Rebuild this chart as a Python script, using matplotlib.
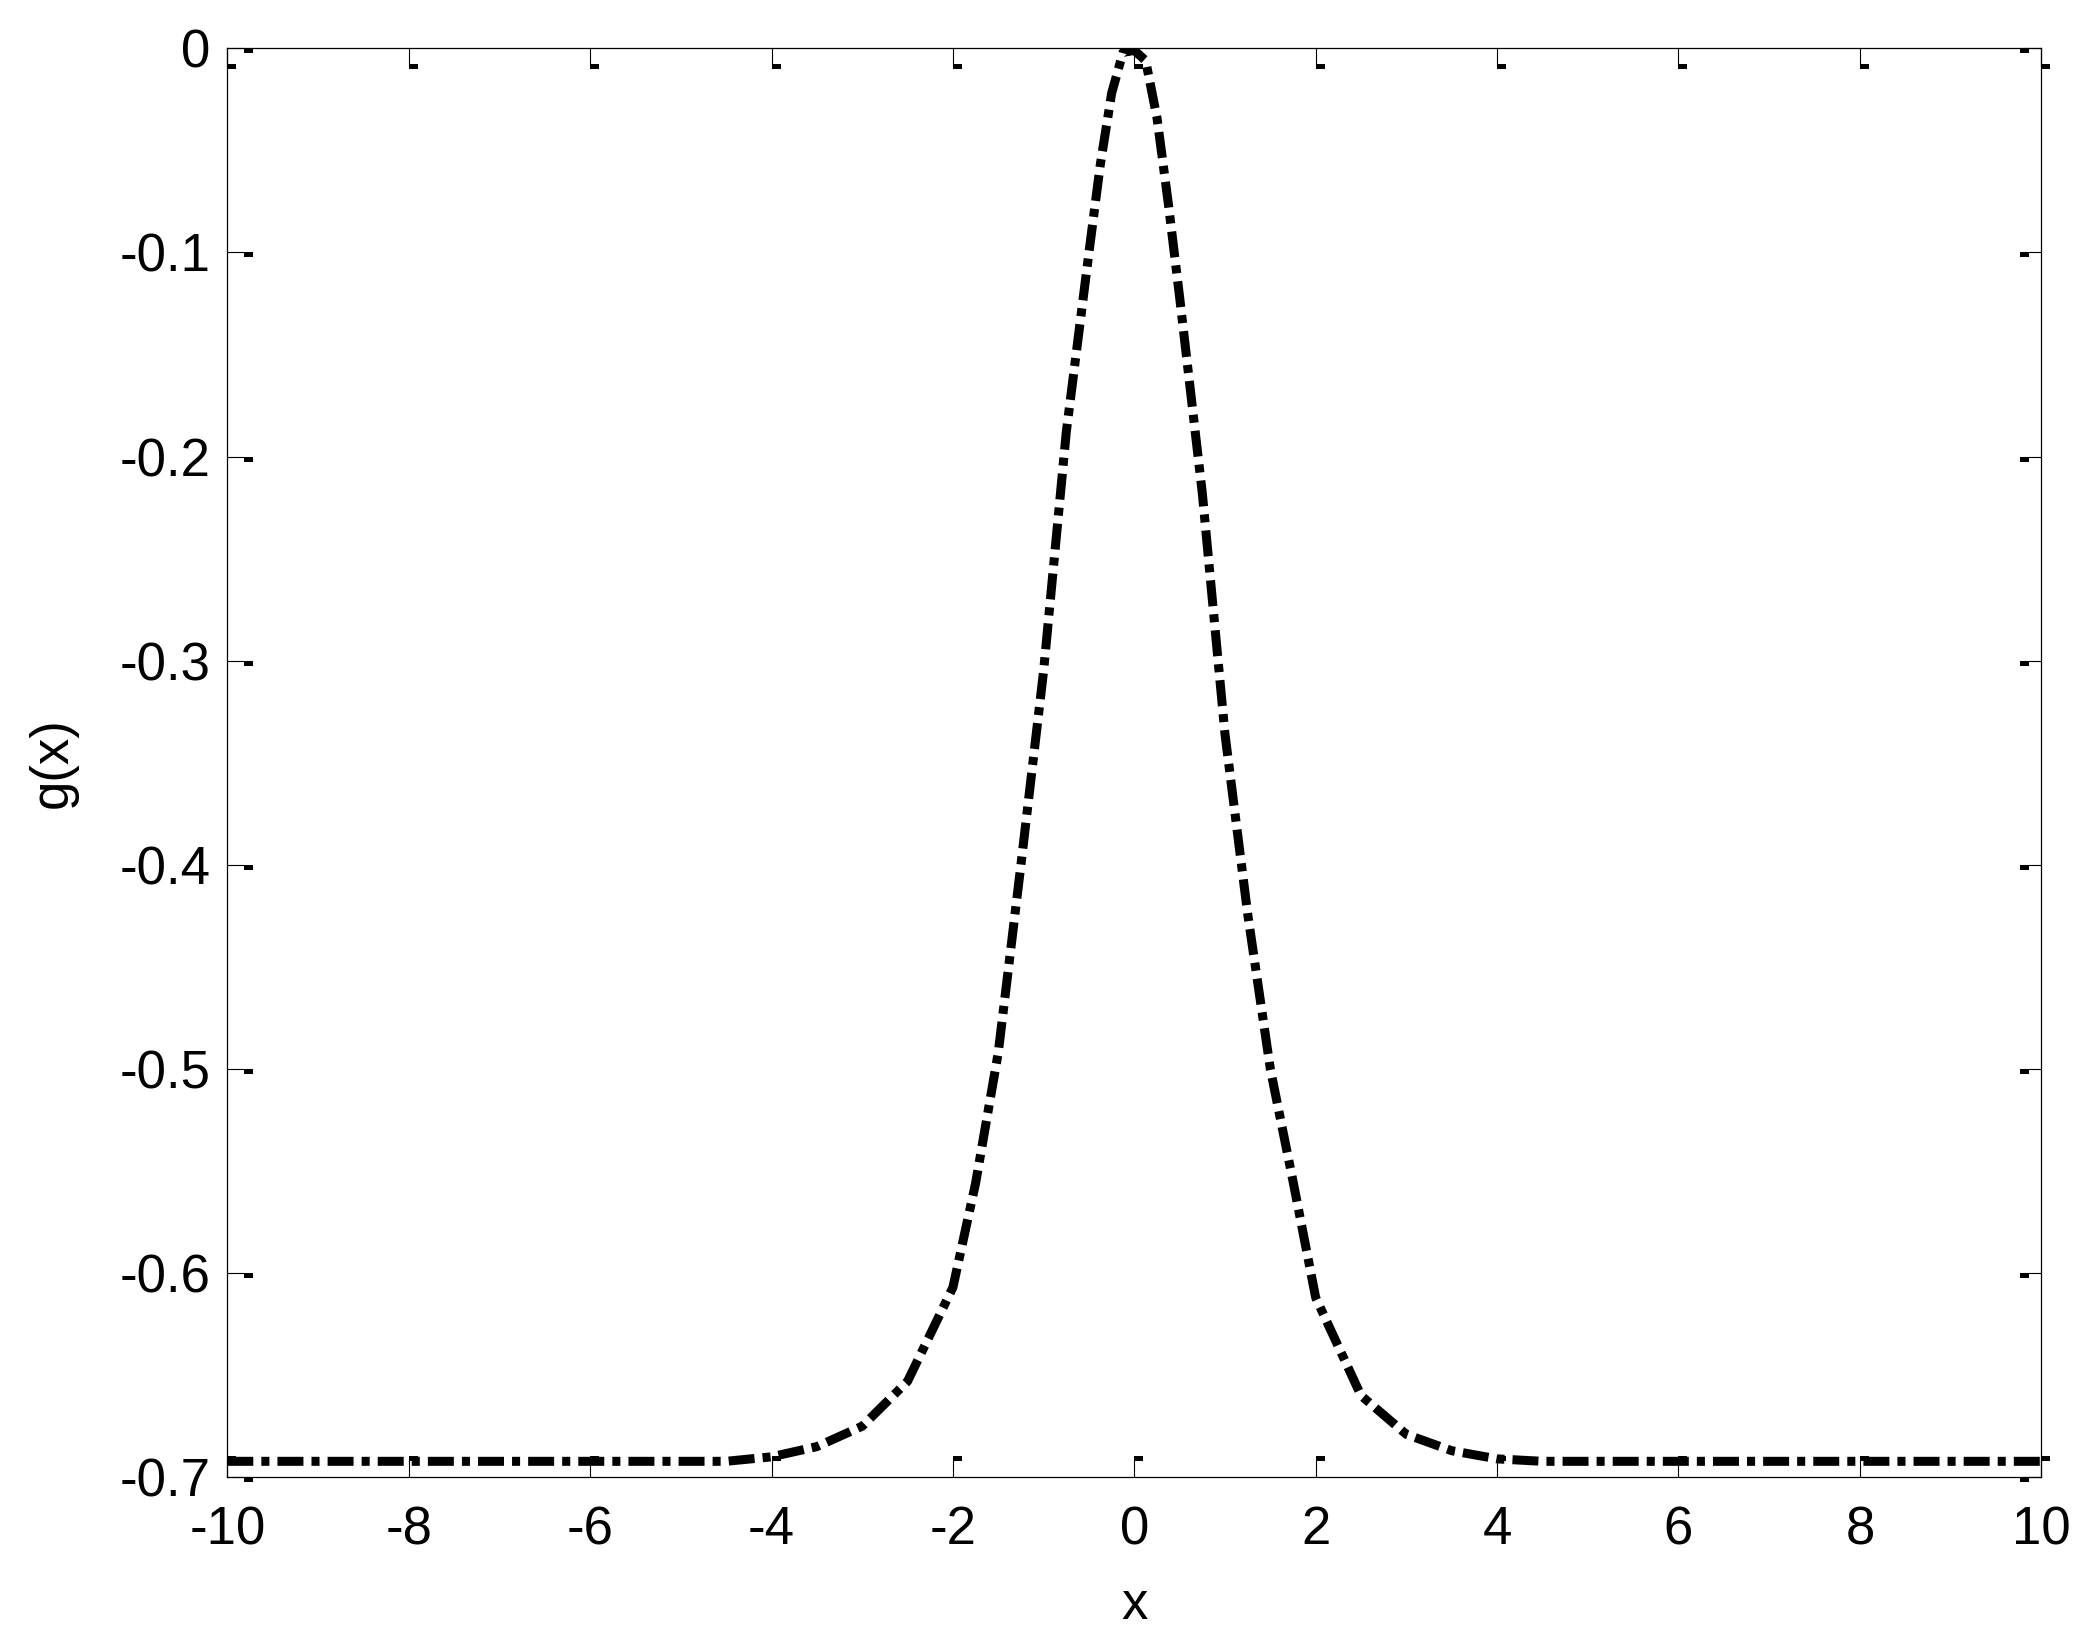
import numpy as np
import matplotlib
matplotlib.use("Agg")
import matplotlib.pyplot as plt
from matplotlib.patches import Rectangle
from matplotlib.transforms import ScaledTranslation, blended_transform_factory

# values
x_vals = [-10, -6, -4.5, -4.0, -3.5, -3.0, -2.5, -2.0, -1.75, -1.5, -1.25, -1.0,
          -0.75, -0.5, -0.375, -0.25, -0.125, 0, 0.125, 0.25, 0.375, 0.5, 0.75,
          1.0, 1.25, 1.5, 1.75, 2.0, 2.5, 3.0, 3.5, 4.0, 4.5, 6, 10]
g_vals = [-0.6922, -0.6922, -0.6922, -0.690, -0.685, -0.675, -0.653, -0.607, -0.556,
          -0.492, -0.400, -0.305, -0.188, -0.100, -0.057, -0.022, -0.002, -0.001,
          -0.006, -0.034, -0.076, -0.122, -0.218, -0.336, -0.424, -0.50, -0.555,
          -0.612, -0.660, -0.679, -0.687, -0.691, -0.6922, -0.6922, -0.6922]

x_ticks = [-10, -8, -6, -4, -2, 0, 2, 4, 6, 8, 10]
y_ticks = [-0.7, -0.6, -0.5, -0.4, -0.3, -0.2, -0.1, 0]
y_ticklabels = ["-0.7", "-0.6", "-0.5", "-0.4", "-0.3", "-0.2", "-0.1", "0"]

plt.rcParams["font.family"] = ["Liberation Sans", "DejaVu Sans"]
plt.rcParams["lines.scale_dashes"] = False

fig = plt.figure(figsize=(20.99, 16.5), dpi=100)
ax = fig.add_axes([0.1083, 0.1047, 0.8642, 0.866])

ax.plot(x_vals, g_vals, color="black", linewidth=6.5, zorder=3,
        dashes=(18.7, 5.8, 5.8, 5.8), dash_capstyle="butt")

ax.set_xlim(-10, 10)
ax.set_ylim(-0.7, 0)
ax.set_xticks(x_ticks)
ax.set_xticklabels([str(t) for t in x_ticks])
ax.set_yticks(y_ticks)
ax.set_yticklabels(y_ticklabels)

ax.tick_params(direction="in", length=13, width=0.8, labelsize=38,
               top=True, right=True)
ax.tick_params(axis="x", pad=20)
ax.tick_params(axis="y", pad=12)
for s in ax.spines.values():
    s.set_linewidth(0.9)

# little square blobs at the tick ends (MATLAB export look)
def blob(base, px, py, dx, dy):
    tr = fig.dpi_scale_trans + ScaledTranslation(px, py, base)
    ax.add_patch(Rectangle((dx, dy), 0.09, 0.05, transform=tr, color="black",
                           clip_on=False, zorder=2, linewidth=0))

yblend = blended_transform_factory(ax.transAxes, ax.transData)
xblend = blended_transform_factory(ax.transData, ax.transAxes)
for yt in y_ticks:
    blob(yblend, 0, yt, 0.17, -0.05)
    blob(yblend, 1, yt, -0.21, -0.05)
for xt in x_ticks:
    blob(xblend, xt, 1, 0.0, -0.21)
    blob(xblend, xt, 0, 0.0, 0.16)

ax.set_xlabel("x", fontsize=38, labelpad=18)
ax.set_ylabel("g(x)", fontsize=38, labelpad=30)

fig.savefig("out.png", dpi=100, facecolor="white")
